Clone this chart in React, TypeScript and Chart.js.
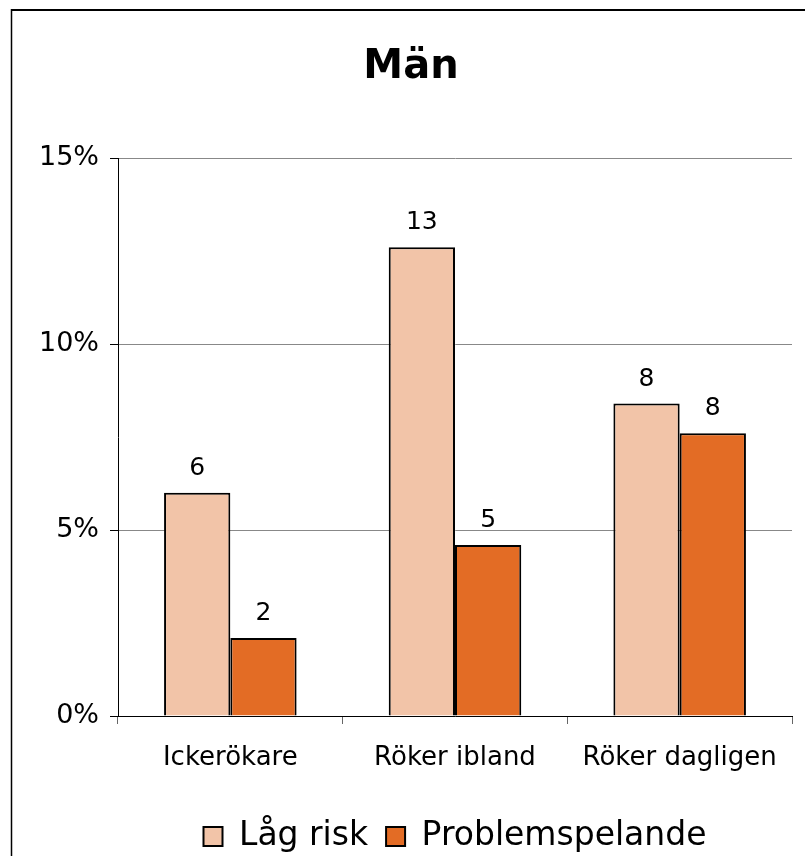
import { useEffect, useRef } from 'react';
import { Chart, registerables } from 'chart.js';

Chart.register(...registerables);

const categories = ['Ickerökare', 'Röker ibland', 'Röker dagligen'];
const seriesNames = ['Låg risk', 'Problemspelande'];
const lagRisk = [6.0, 12.6, 8.4];
const problemspelande = [2.1, 4.6, 7.6];
const yMin = 0;
const yMax = 15;
const yStep = 5;
const titleText = 'Män';

const FONT = '"DejaVu Sans", Verdana, sans-serif';

const framePlugin = {
  id: 'frame',
  afterDraw(chart: any) {
    const ctx = chart.ctx;
    ctx.save();
    ctx.strokeStyle = '#000';
    ctx.lineWidth = 2;
    ctx.beginPath();
    ctx.moveTo(11, 10);
    ctx.lineTo(chart.width, 10);
    ctx.stroke();
    ctx.lineWidth = 1.5;
    ctx.beginPath();
    ctx.moveTo(11.5, 9);
    ctx.lineTo(11.5, chart.height);
    ctx.stroke();
    ctx.restore();
  },
};

const valueLabelPlugin = {
  id: 'valueLabels',
  afterDatasetsDraw(chart: any) {
    const ctx = chart.ctx;
    ctx.save();
    ctx.font = `25px ${FONT}`;
    ctx.fillStyle = '#000';
    ctx.textAlign = 'center';
    ctx.textBaseline = 'alphabetic';
    chart.data.datasets.forEach((ds: any, i: number) => {
      const meta = chart.getDatasetMeta(i);
      meta.data.forEach((el: any, j: number) => {
        const v = ds.data[j];
        ctx.fillText(String(Math.round(v)), el.x, el.y - 18);
      });
    });
    ctx.restore();
  },
};

export default function App() {
  const ref = useRef<HTMLCanvasElement | null>(null);

  useEffect(() => {
    if (!ref.current) return;
    const chart = new Chart(ref.current, {
      type: 'bar',
      data: {
        labels: categories,
        datasets: [
          {
            label: seriesNames[0],
            data: lagRisk,
            backgroundColor: '#F2C4A8',
            borderColor: '#000',
            borderWidth: 2,
            categoryPercentage: 0.59,
            barPercentage: 1,
          },
          {
            label: seriesNames[1],
            data: problemspelande,
            backgroundColor: '#E36C25',
            borderColor: '#000',
            borderWidth: 2,
            categoryPercentage: 0.59,
            barPercentage: 1,
          },
        ],
      },
      options: {
        animation: false,
        responsive: false,
        maintainAspectRatio: false,
        layout: { padding: { top: 9, left: 30, right: 13, bottom: 17 } },
        plugins: {
          title: {
            display: true,
            text: titleText,
            color: '#000',
            font: { family: FONT, size: 40, weight: 'bold' },
            padding: { top: 35, bottom: 66 },
          },
          legend: {
            display: true,
            position: 'bottom',
            fullSize: false,
            labels: {
              color: '#000',
              font: { family: FONT, size: 33 },
              boxWidth: 19,
              boxHeight: 19,
              padding: 18,
            },
          },
          tooltip: { enabled: false },
        },
        scales: {
          x: {
            offset: true,
            grid: {
              display: true,
              offset: true,
              drawOnChartArea: false,
              drawTicks: true,
              tickLength: 8,
              color: '#666',
            },
            border: { display: true, color: '#000', width: 1 },
            ticks: {
              color: '#000',
              font: { family: FONT, size: 26 },
              padding: 19,
              maxRotation: 0,
            },
            afterFit(scale: any) {
              scale.height = 86;
            },
          },
          y: {
            min: yMin,
            max: yMax,
            grid: {
              color: '#888',
              tickColor: '#000',
              tickLength: 8,
              drawTicks: true,
            },
            border: { display: true, color: '#000', width: 1 },
            ticks: {
              stepSize: yStep,
              color: '#000',
              font: { family: FONT, size: 27 },
              padding: 11,
              callback: (v: any) => `${v}%`,
            },
            afterFit(scale: any) {
              scale.width = 88;
            },
          },
        },
      },
      plugins: [valueLabelPlugin, framePlugin],
    });
    return () => chart.destroy();
  }, []);

  return (
    <div
      style={{
        position: 'fixed',
        left: 0,
        top: 0,
        width: 805,
        height: 856,
        overflow: 'hidden',
        background: '#fff',
      }}
    >
      <canvas ref={ref} width={805} height={880} style={{ display: 'block', width: 805, height: 880 }} />
    </div>
  );
}
